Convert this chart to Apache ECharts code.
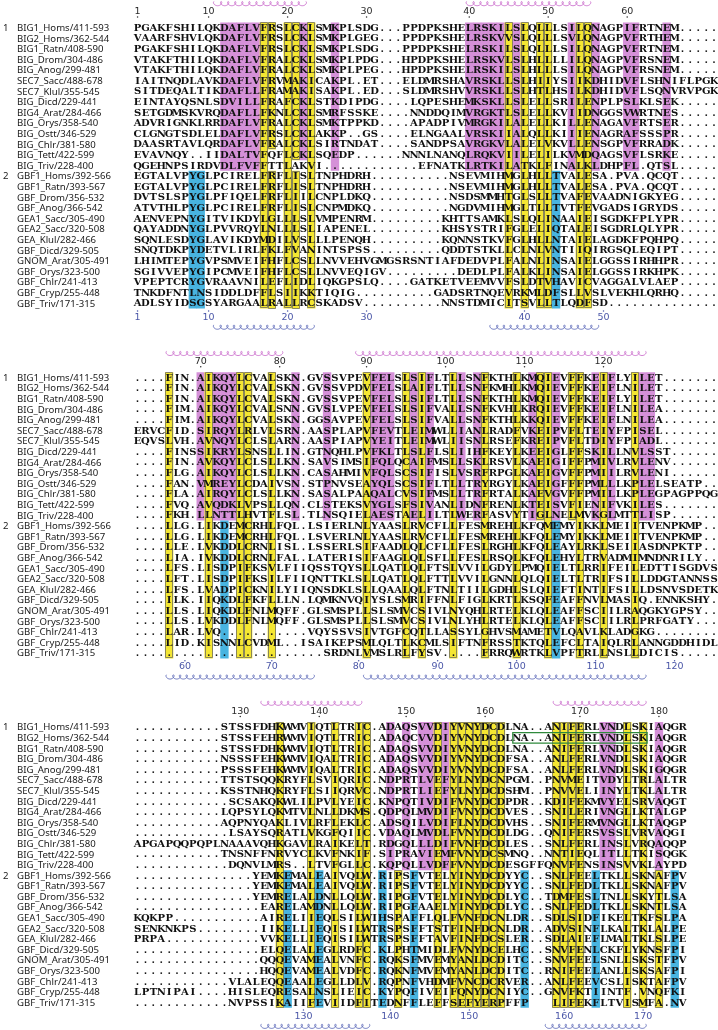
<!DOCTYPE html>
<html><head><meta charset="utf-8">
<script src="https://cdn.jsdelivr.net/npm/echarts/dist/echarts.min.js"></script>
<style>html,body{margin:0;padding:0;background:#fff}#c{width:718px;height:1030px}</style>
</head><body><div id="c"></div>
<script>
// ---------------- DATA ----------------
const NAMES = ["BIG1_Homs/411-593","BIG2_Homs/362-544","BIG1_Ratn/408-590","BIG_Drom/304-486","BIG_Anog/299-481","SEC7_Sacc/488-678","SEC7_Klul/355-545","BIG_Dicd/229-441","BIG4_Arat/284-466","BIG_Orys/358-540","BIG_Ostt/346-529","BIG_Chlr/381-580","BIG_Tett/422-599","BIG_Triv/228-400","GBF1_Homs/392-566","GBF1_Ratn/393-567","GBF_Drom/356-532","GBF_Anog/366-542","GEA1_Sacc/305-490","GEA2_Sacc/320-508","GEA_Klul/282-466","GBF_Dicd/329-505","GNOM_Arat/305-491","GBF_Orys/323-500","GBF_Chlr/241-413","GBF_Cryp/255-448","GBF_Triv/171-315"];
const GROUP_LABELS = [[0,"1"],[14,"2"]];

const SEQ1 = [
"PGAKFSHILQKDAFLVFRSLCKLSMKPLSDG...PPDPKSHELRSKILSLQLLLSILQNAGPIFRTNEM.....",
"VAARFSHVLQKDAFLVFRSLCKLSMKPLGEG...PPDPKSHELRSKVVSLQLLLSVLQNAGPVFRTHEM.....",
"PGAKFSHILQKDAFLVFRSLCKLSMKPLSDG...PPDPKSHELRSKILSLQLLLSILQNAGPVFRTNEM.....",
"VTAKFTHILQKDAFLVFRALCKLSMKPLPDG...HPDPKSHELRSKVLSLHLLLLILQNAGPVFRSNEM.....",
"VTAKFTHILQKDAFLVFRALCKLSMKPLPEG...HPDPKSHELRSKILSLHLLLSILQNAGPVFRSNEM.....",
"IAITNQDLAVKDAFLVFRVMAKICAKPL.ET...ELDMRSHAVRSKLLSLHIIYSIIKDHIDVFLSHNIFLPGK",
"SITDEQALTIKDAFLLFRAMAKISAKPL.ED...SLDMRSHVVRSKLLSLHTLHSILKDHIDVFLSQNVRVPGK",
"EINTAYQSNLSDVILLFRAFCKLSTKDIPDG....LQPESHEMKSKLLSLELLSRILENPLPSLKLSEK.....",
"SETGDMSKVRQDAFLLFKNLCKLSMRFSSKE....NNDDQIMVRGKTLSLELLKVIIDNGGSVWRTNES.....",
"ADVRIGNKLRRDAFLVFRALCKLSMKTPPKD....APADPIVMRGKILALELLKILLENAGAVFRTSER.....",
"CLGNGTSDLELDAFLVFRSLCKLAKKP..GS....ELNGAALVRSKIIALQLLKIIIENAGRAFSSSPR.....",
"DAASRTAVLQRDAFLVFRALCKLSIRTNDAT....SANDPSAVRGKVLALELVKVLLENSGPVFRRADK.....",
"EVAVNQY..IIDALTVFQFLCKLSQEDP......NNNLNANQLRQKVIILELILKVMDQAGSVFLSRKE.....",
"QGEHNPSIRDVDLFVFFTTLAKVI............EFNATKLRTKILATKLFINALKLDHPFL.QTSL.....",
"EGTALVPYGLPCIRELFRFLISLTNPHDRH..........NSEVMIHMGLHLLTVALESA.PVA.QCQT.....",
"EGTALVPYGLPCIRELFRFLISLTNPHDRH..........NSEVMIHMGLHLLTVALESA.PVA.QCQT.....",
"DVTSLSPYGLPFIQELFRFLIILCNPLDKQ..........NSDSMMHTGLSLLTVAFEVAADNIGKYEG.....",
"ATVTHLPYGLPCIRELFRFLISLCNPMDKQ..........NGDVMIHMGLTLLTVTFEVGADSIGRYDS.....",
"AENVEPNYGITVIKDYLGLLLSLVMPENRM.........KHTTSAMKLSLQLINAAIEISGDKFPLYPR.....",
"QAYADDNYGLPVVRQYLNLLLSLIAPENEL.........KHSYSTRIFGLELIQTALEISGDRLQLYPR.....",
"SQNLESDYGLAVIKDYMDILVSLLLPENQH.........KQNNSTKVFGLHLLNTAIELAGDKFPQHPQ.....",
"SNQTDKPYDETVLIRLFKLFVANINTSPSS.........QDDTSTKLLCLNLVNTIIQIRGSQLEQIPT.....",
"LHIMTEPYGVPSMVEIFHFLCSLLNVVEHVGMGSRSNTIAFDEDVPLFALNLINSAIELGGSSIRHHPR.....",
"SGIVVEPYGIPCMVEIFHFLCSLLNVVEQIGV.........DEDLPLFALKLINSAIELGGSSIRKHPK.....",
"VPEPTCRYGVRAAVNILEFLIDLIQKGPSLQ....GATKETVEEMVVFSLDTVHAVICVAGGALVLAEP.....",
"TNKDFNTLNSIDDLDFFLSIIKKTIQIG..........GADSRTNQEVRKMLDFSLLVSLVEKHLQRHQ.....",
"ADLSYIDSGSYARGAALRALLRCSKADSV..........NNSTDMICITSVLLTLQDFSD.............."
];
const SEQ2 = [
"....FIN.AIKQYLCVALSKN.GVSSVPEVFELSLSIFLTLLSNFKTHLKMQIEVFFKEIFLYILET.......",
"....FIN.AIKQYLCVALSKN.GVSSVPDVFELSLAIFLTLLSNFKMHLKMQIEVFFKEIFLNILET.......",
"....FIN.AIKQYLCVALSKN.GVSSVPEVFELSLSIFLTLLSNFKTHLKMQIEVFFKEIFLYILET.......",
"....FIM.AIKQYLCVALSNN.GVSLVPEVFELSLSIFVALLSNFKVHLKRQIEVFFKEIFLNILEA.......",
"....FIM.AIKQYLCVALSKN.GGSAVPEVFELSLSIFVALLSNFKTHLKKQIEVFFKEIFLNILEA.......",
"ERVCFID.SIRQYLRLVLSRN.AASPLAPVFEVTLEIMWLLIANLRADFVKEIPVFLTEIYFPISEL.......",
"EQVSLVH.AVNQYLCLSLARN.AASPIAPVYEITLEIMWLIISNLRSEFKREIPVFLTDIYFPIADL.......",
"....FINSSIKRYLSNSLLIN.GTNQHLPVFKLTLSLFLSLIIHFKEYLKEEIGLFFSKILLNVLSST......",
"....FIN.AVKQYLCLSLLKN.SAVSIMSIFQLQCAIFMSLLSKLRSVLKAEIGIFFPMIVLRVLENV......",
"....FLG.AIKQYLCLSLLKN.CASAHMIVFQLSCSIFISLVSRFRPGLKAEIGVFFPMIILRVLENI......",
"....FAN.VMREYLCDAIVSN.STPNVSEAYQLSCSIFLTLLTRYRGYLKAEIGFFFPMLLLKPLELSEATP..",
"....FLA.AIRQYLCLSLLKN.SASALPAAQALCVSIFMSLLTRFRTALKAEVGVFFPMILLKPLEGPAGPPQG",
"....FVQ.AVQDKLVPSLLQN.CLSTEKSVYGLSFSIVANLIDNFRENLKTEISVFIENIFVKILES.......",
"....FKH.LLNTTLHVTFLSL.TLNSQIELAESTAELILTLWERFASVYTIGLNELMVKGLMTTLISP......",
"....LLG.LIKDEMCRHLFQL.LSIERLNLYAASLRVCFLLFESMREHLKFQMEMYIKKLMEIITVENPKMP..",
"....LLG.LIKDEMCRHLFQL.LSVERLNLYAASLRVCFLLFESMREHLKFQLEMYIKKLMEIITVENPKMP..",
"....LLE.LVKDDLCRNLISL.LSSERLSIFAADLQLCFLLFESLRGHLKFQLEAYLRKLSEIIASDNPKTP..",
"....LIA.IVKDDLCRNLFAL.LATERISIFAAGLQLSFLLFESLRSQLKFQLEHYLTRVADMIMNDNRILY..",
"....LFS.LISDPIFKSVLFIIQSSTQYSLLQATLQLFTSLVVILGDYLPMQIELTLRRIFEILEDTTISGDVS",
"....LFT.LISDPIFKSILFIIQNTTKLSLLQATLQLFTTLVVILGNNLQLQIELTLTRIFSILLDDGTANNSS",
"....LFS.LVADPICKNILYIIQNSDKLSLLQAALQLFTNLTIILGDHLSLQIEFTINTIFSILLDSNVSDETK",
"....ILK.IIQKDLFKFLLLN.LQMKNVQIYSLSMRIFFNLFIGLKRTLKSQFEAFFNVLMASIQ.ENNKSHY.",
"....LLS.LIQKDLFNLMQFF.GLSMSPLLSLSMVCSIVLNYQHLRTELKLQLEAFFSCIILRAQGKYGPSY..",
"....LLS.LVKDDLFNLMQFF.GLSMSPLLSLSMVCSIVLNLYHLRTELKLQLEAFFSCIILRLPRFGATY...",
"....LAR.LVQ...........VQYSSVSIVTGFCQTLLASSYLGHVSMAMETVLQAVLKLADGKG........",
"....LID.KISNNLCVDML..ISAIKEPSMLQLTLKCMLSIFTNFRSSTKTQLEFCLTAIQLRLANNGDDHIDL",
"........................SRDNLVMSLRLFYSV.....FRRQWRTKLVPFTRLLNSLLDICIS....."
];
const SEQ3 = [
"...........STSSFDHKWMVIQTLTRIC.ADAQSVVDIYVNYDCDLNA..ANIFERLVNDLSKIAQGR",
"...........STSSFEHRWMVIQTLTRIC.ADAQCVVDIYVNYDCDLNA..ANIFERLVNDLSKIAQGR",
"...........STSSFDHKWMVIQTLTRIC.ADAQSVVDIYVNYDCDLNA..ANIFERLVNDLSKIAQGR",
"...........NSSSFEHKWMVIQALTRIC.ADAQSVVDIYVNYDCDFSA..ANLFERLVNDLSKIAQGR",
"...........PSSSFEHKWMVIQALTRIC.ADAQSVVDIYVNYDCDFSA..ANLFERLVNDLSKIGQGR",
"...........TTSTSQQKRYFLSVIQRIC.NDPRTLVEFYLNYDCNPGM..PNVMEITVDYLTRLALTR",
"...........KSSTNHQKRYFLSIIQRVC.NDPRTLIEFYLNYDCDSHM..PNVVELIINYLTKLALTR",
"............SCSAKQKWLILPVLYEIC.KNPQTIVDIFVNYDCDPDR..KDIFEKMVYELSRVAQGT",
"...........LQPSYLQKMTVLNLLDKMS.QDPQLMVDIFVNYDCDVES..SNILERIVNGLLKTALGP",
"...........AQPNYQAKLIVLRFLEKLC.ADSQILVDIFLNYDCDVHS..SNIFERMVNGLLKTAQGP",
"............LSAYSQRATLVKGFQIIC.VDAQLMVDLFVNYDCDLDG..QNIFERSVSSLVRVAQGI",
"APGAPQQPQPLNAAAVQHKGAVLRAIKELT.RDGQLLLDIFVNFDCDLES..SNLFERLINSLVRQAQQP",
"...........TNSNFFNRVYCLKVFNKIF.SIPRAVIEMFVNYDCSMNQ..NNTIEQLITLLTKISQGK",
"............DQNVLMRS..LTVFGLLC.KQPQLLVDFFVNYDCDESGFFQNVFENSINSVVKLAYPD",
"...............YEMKEMALEAIVQLW.RIPSFVTELYINYDCDYYC..SNLFEELTKLLSKNAFPV",
"...............YEMKEMALEAIVQLW.RIPSFVTELYINYDCDYYC..SNLFEDLTKLLSKNAFPV",
"...............YEMRELALDNLLQLW.RIPGFVTELYINYDCDLYC..TDMFESLTNLLSKYTLSA",
"................EARELAMDNLLQLW.RIPGFAAELYINYDCDLYC..SNLFEDLTKLLSKNTLSA",
"KQKPP...........AIRELIIEQLSILWIHSPAFFLQLFVNFDCNLDR..SDLSIDFIKELTKFSLPA",
"SENKNKPS........IIKELLIEQISILWTRSPSFFTSTFINFDCNLDR..ADVSINFLKALTKLALPE",
"PRPA............VVKELLIEQISILWTRSPSFFTAVFINFDCSLER..SDLAIEFLMALTKLSLPE",
"................ELQELALEGLRDFC.KLPHTMIDLFVNYDCELHC..SNVFENLCKFLYKNSFPI",
"................QQQEVAMEALVNFC.RQKSFMVEMYANLDCDITC..SNVFEELSNLLSKSTFPV",
"................HQQEVAMEALVDFC.RQKNFMVEMYANLDCDITC..RNIFEELANLLSKSAFPI",
"............VLALEQQEAALEGLLDLV.RQPNFVHDMFVNCDCRVER..ANLFEEVCSLISKTAFPV",
"LPTNIPAI....HISLEQRESALNSLIEIC.KYPQFIVEIFQNYDCNIYC..GNVFKTIINTF.VNQFKI",
"............NVPSSIKAIIFEVIIDFITEDNFFLEFFSEFYERPFFP   LIFEKFLTVISMFA.NV"
];

// highlighted alignment columns (1-based) per block and sequence group
const B1_G1_PURPLE = [12,13,14,15,16,22,26,43,44,45,46,47,49,56,59,63,64,68];
const B1_G1_YELLOW = [17,18,20,21,23,48,50,52,53,57,58];
const B1_G2_CYAN   = [8,9,54];
const B1_G2_YELLOW = [17,18,20,21,23,48,50,52,53,57,58];
const B2_G1_PURPLE = [9,11,12,13,21,25,31,32,33,36,38,42,44,51,54,59,61,65,66];
const B2_G1_YELLOW = [5,10,14,15,18,30,35,37,41,45,49,52,53,56,57,60,64];
const B2_G2_CYAN   = [12,54];
const B2_G2_YELLOW = [5,10,14,15,18,30,35,37,41,45,49,53,57,60,64];
const B3_G1_PURPLE = [33,35,37,38,40,60,61,67];
const B3_G1_YELLOW = [19,23,26,29,30,39,41,42,43,44,45,46,47,54,55,56,57,63,65];
const B3_G2_CYAN   = [20,24,32,36,50,59,69];
const B3_G2_YELLOW = [19,23,26,29,30,34,39,41,42,43,44,45,46,47,54,55,56,57,63,65,67];
// [row, col] cells left unhighlighted
const B1_BLANK = [[12,18],[13,18],[13,21],[13,22]];
const B2_BLANK = [];
const B3_BLANK = [[26,51],[26,52],[26,53]];
// helix spans [firstCol, lastCol]
const B1_TOP_HELIX = [[11,22],[43,58]];
const B1_BOT_HELIX = [[11,23],[46,59]];
const B2_TOP_HELIX = [[5,19],[29,65]];
const B2_BOT_HELIX = [[5,23],[30,65]];
const B3_TOP_HELIX = [[17,29],[54,65]];
const B3_BOT_HELIX = [[17,30],[53,65]];
// boxed segment in block 3: [row, firstCol, lastCol]
const B3_BOX = [1,49,65];

// ---------------- LAYOUT / STYLE ----------------
const PITCH = 7.9, ROWH = 10.6, LEFT = 133.6, NAME_X = 17, GNUM_X = 3;
const ROW1Y = [27.7, 377.5, 727.3];
const YMIN = -2.6, YMAX = 28.6;
const COLORS = {p:'#d590d8', y:'#f4e632', c:'#48b4e0'};
const SEQ_FONT = 'bold 10px "DejaVu Serif"';
const NAME_FONT = '9.6px "Noto Sans"';
const RULER_FONT = '9.5px "DejaVu Sans"';

const blocks = [
  {seq:SEQ1, n:74, g1:{p:B1_G1_PURPLE,y:B1_G1_YELLOW}, g2:{c:B1_G2_CYAN,y:B1_G2_YELLOW}, blank:B1_BLANK, th:B1_TOP_HELIX, bh:B1_BOT_HELIX},
  {seq:SEQ2, n:74, g1:{p:B2_G1_PURPLE,y:B2_G1_YELLOW}, g2:{c:B2_G2_CYAN,y:B2_G2_YELLOW}, blank:B2_BLANK, th:B2_TOP_HELIX, bh:B2_BOT_HELIX},
  {seq:SEQ3, n:70, g1:{p:B3_G1_PURPLE,y:B3_G1_YELLOW}, g2:{c:B3_G2_CYAN,y:B3_G2_YELLOW}, blank:B3_BLANK, th:B3_TOP_HELIX, bh:B3_BOT_HELIX, box:B3_BOX}
];

function colourAt(B, r, c) {
  if (B.blank.some(b => b[0] === r && b[1] === c)) return null;
  const g = r < 14 ? B.g1 : B.g2;
  for (const k of Object.keys(g)) if (g[k].indexOf(c) >= 0) return k;
  return null;
}
function isRes(ch){ return ch !== '.' && ch !== ' '; }

const grids = [], xAxes = [], yAxes = [], series = [];
let topCount = 0, botCount = 0;

blocks.forEach((B, k) => {
  grids.push({left: LEFT, top: ROW1Y[k] + YMIN * ROWH, width: B.n * PITCH, height: (YMAX - YMIN) * ROWH, containLabel:false});
  xAxes.push({type:'value', gridIndex:k, min:0, max:B.n, show:false});
  yAxes.push({type:'value', gridIndex:k, min:YMIN, max:YMAX, inverse:true, show:false});

  // runs of highlighted cells
  const runs = [];
  for (let c = 1; c <= B.n; c++) {
    let cur = null;
    for (let r = 0; r < B.seq.length; r++) {
      const code = colourAt(B, r, c);
      if (cur && code === cur.code) { cur.r1 = r; }
      else { if (cur) runs.push(cur); cur = code ? {c, r0:r, r1:r, code} : null; }
    }
    if (cur) runs.push(cur);
  }
  series.push({type:'custom', xAxisIndex:k, yAxisIndex:k, clip:false, silent:true, z:1,
    data: runs.map(u => [u.c - 0.5, (u.r0 + u.r1) / 2]),
    renderItem: (p, api) => {
      const u = runs[p.dataIndex];
      const a = api.coord([u.c - 1, u.r0 - 0.5]), b = api.coord([u.c, u.r1 + 0.5]);
      return {type:'rect', shape:{x:a[0]-0.25, y:a[1], width:b[0]-a[0]+0.5, height:b[1]-a[1]},
        style:{fill:COLORS[u.code]}};
    }});
  const yruns = runs.filter(u => u.code === 'y');
  series.push({type:'custom', xAxisIndex:k, yAxisIndex:k, clip:false, silent:true, z:2,
    data: yruns.map(u => [u.c - 0.5, (u.r0 + u.r1) / 2]),
    renderItem: (p, api) => {
      const u = yruns[p.dataIndex];
      const a = api.coord([u.c - 1, u.r0 - 0.5]), b = api.coord([u.c, u.r1 + 0.5]);
      return {type:'rect', shape:{x:Math.round(a[0])+0.5, y:Math.round(a[1])+0.5, width:Math.round(b[0]-a[0])-1, height:Math.round(b[1]-a[1])-1},
        style:{fill:null, stroke:'#7e7c5c', lineWidth:0.9}};
    }});

  // letters
  const letters = [];
  B.seq.forEach((s, r) => { for (let i = 0; i < s.length; i++) if (s[i] !== ' ') letters.push([i + 0.5, r, s[i]]); });
  series.push({type:'custom', xAxisIndex:k, yAxisIndex:k, clip:false, silent:true, z:3,
    data: letters.map(d => [d[0], d[1]]),
    renderItem: (p, api) => {
      const d = letters[p.dataIndex];
      const pt = api.coord([d[0], d[1]]);
      return {type:'text', x:pt[0], y:pt[1] + 0.6,
        style:{text:d[2], font:SEQ_FONT, fill:'#111', align:'center', verticalAlign:'middle', textAlign:'center', textVerticalAlign:'middle'}};
    }});

  // names + group numbers
  const nm = NAMES.map((n, r) => [0, r, n]);
  GROUP_LABELS.forEach(g => nm.push([-1, g[0], g[1]]));
  series.push({type:'custom', xAxisIndex:k, yAxisIndex:k, clip:false, silent:true, z:3,
    data: nm.map(d => [0, d[1]]),
    renderItem: (p, api) => {
      const d = nm[p.dataIndex];
      const pt = api.coord([0, d[1]]);
      const x = pt[0] - (LEFT - (d[0] < 0 ? GNUM_X : NAME_X));
      return {type:'text', x:x, y:pt[1] + 0.5,
        style:{text:d[2], font:NAME_FONT, fill:'#1a1a1a', align:'left', verticalAlign:'middle', textAlign:'left', textVerticalAlign:'middle'}};
    }});

  // rulers (residue numbering of the first sequence of each group)
  const ticks = [];
  [[0, 'top'], [14, 'bot']].forEach(([ref, pos]) => {
    const s = B.seq[ref];
    let cnt = pos === 'top' ? topCount : botCount;
    for (let i = 0; i < s.length; i++) {
      if (!isRes(s[i])) continue;
      cnt++;
      if (cnt === 1 || cnt % 10 === 0) ticks.push([i + 0.5, pos, String(cnt)]);
    }
    if (pos === 'top') topCount = cnt; else botCount = cnt;
  });
  series.push({type:'custom', xAxisIndex:k, yAxisIndex:k, clip:false, silent:true, z:3,
    data: ticks.map(t => [t[0], t[1] === 'top' ? -1.5 : 27.3]),
    renderItem: (p, api) => {
      const t = ticks[p.dataIndex];
      const top = t[1] === 'top';
      const col = top ? '#2a2a2a' : '#4b57a8';
      const pn = api.coord([t[0], top ? -1.52 : 27.3]);
      const pd = api.coord([t[0], top ? -1.02 : 26.72]);
      return {type:'group', children:[
        {type:'text', x:pn[0], y:pn[1], style:{text:t[2], font:RULER_FONT, fill:col, align:'center', verticalAlign:'middle', textAlign:'center', textVerticalAlign:'middle'}},
        {type:'circle', shape:{cx:pd[0], cy:pd[1], r:0.75}, style:{fill:col}}
      ]};
    }});

  // helices
  const hel = [];
  B.th.forEach(h => hel.push([h[0], h[1], -2.27, '#c662c8']));
  B.bh.forEach(h => hel.push([h[0], h[1], 28.25, '#5260b4']));
  series.push({type:'custom', xAxisIndex:k, yAxisIndex:k, clip:false, silent:true, z:3,
    data: hel.map(h => [(h[0] + h[1]) / 2, h[2]]),
    renderItem: (p, api) => {
      const h = hel[p.dataIndex];
      const a = api.coord([h[0] - 1, h[2]]), b = api.coord([h[1], h[2]]);
      const x0 = a[0] + 1.5, x1 = b[0] - 1.5, yc = a[1];
      const n = Math.max(1, Math.round((x1 - x0) / 6.8));
      const per = (x1 - x0) / n, A = per / (2 * Math.PI), Bb = 2.1;
      const pts = [];
      for (let t = 0; t <= 2 * Math.PI * n + 1e-6; t += Math.PI / 10) {
        pts.push([x0 + A * t - Bb * Math.sin(t), yc - Bb * Math.cos(t)]);
      }
      return {type:'polyline', shape:{points:pts}, style:{stroke:h[3], fill:null, lineWidth:0.8}};
    }});

  // boxed segment
  if (B.box) {
    const bx = B.box;
    series.push({type:'custom', xAxisIndex:k, yAxisIndex:k, clip:false, silent:true, z:4,
      data: [[(bx[1] + bx[2]) / 2, bx[0]]],
      renderItem: (p, api) => {
        const a = api.coord([bx[1] - 1, bx[0] - 0.5]), b = api.coord([bx[2], bx[0] + 0.5]);
        return {type:'rect', shape:{x:a[0], y:a[1], width:b[0]-a[0], height:b[1]-a[1]}, style:{fill:null, stroke:'#2f8a3c', lineWidth:1.3}};
      }});
  }
});

const chart = echarts.init(document.getElementById('c'), null, {renderer:'canvas', width:718, height:1030});
chart.setOption({animation:false, backgroundColor:'#fff', grid:grids, xAxis:xAxes, yAxis:yAxes, series:series});
</script></body></html>
